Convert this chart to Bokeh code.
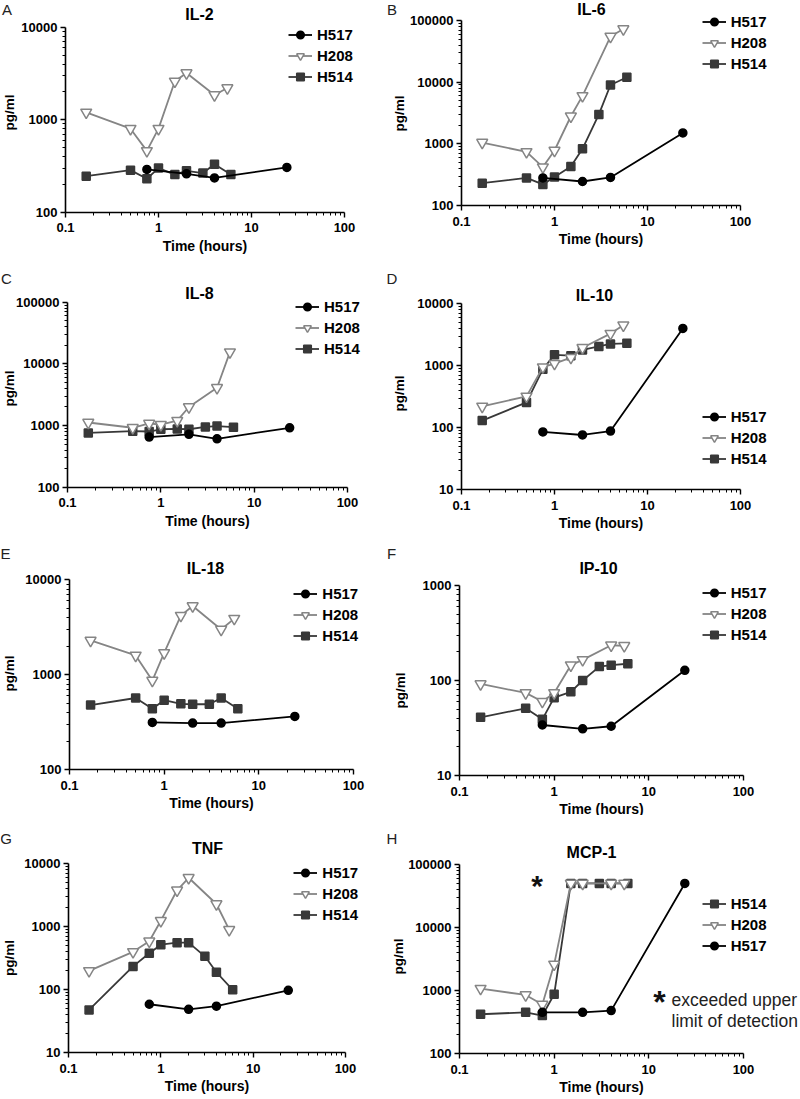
import math
from bokeh.plotting import figure
from bokeh.layouts import column, row
from bokeh.models import FixedTicker, CustomJSTickFormatter, Label, Legend, LegendItem
from bokeh.embed import file_html
from bokeh.resources import INLINE

FONT = "Liberation Sans"

# ---------------- data ----------------
t_h517 = [0.75, 2, 4, 24]
t_h208 = [0.167, 0.5, 0.75, 1, 1.5, 2, 4, 5.5]
t_h514 = [0.167, 0.5, 0.75, 1, 1.5, 2, 3, 4, 6]

il2_h517 = [290, 260, 235, 305]
il2_h208 = [1200, 800, 460, 800, 2600, 3200, 1850, 2200]
il2_h514 = [245, 285, 230, 300, 255, 280, 265, 330, 255]

il6_h517 = [280, 245, 285, 1500]
il6_h208 = [1050, 740, 420, 780, 2800, 6000, 55000, 73000]
il6_h514 = [230, 280, 220, 290, 430, 830, 3000, 9000, 12000]

il8_h517 = [650, 720, 610, 920]
il8_h208 = [1120, 920, 1080, 1030, 1200, 2000, 4100, 15500]
il8_h514 = [760, 810, 800, 870, 880, 870, 950, 980, 940]

il10_h517 = [85, 76, 88, 4000]
il10_h208 = [220, 320, 950, 1080, 1350, 1950, 3300, 4500]
il10_h514 = [130, 255, 880, 1500, 1450, 1800, 2050, 2250, 2300]

il18_h517 = [315, 310, 310, 365]
il18_h208 = [2300, 1600, 870, 1700, 4200, 5300, 3000, 3900]
il18_h514 = [480, 570, 440, 540, 495, 490, 490, 570, 440]

ip10_h517 = [34, 31, 33, 128]
ip10_h208 = [92, 74, 60, 74, 145, 165, 235, 232]
ip10_h514 = [41, 51, 39, 66, 76, 100, 140, 145, 150]

tnf_h517 = [59, 49, 55, 98]
tnf_h208 = [200, 400, 590, 1250, 3800, 6000, 2300, 900]
tnf_h514 = [48, 235, 380, 520, 560, 560, 340, 190, 100]

mcp1_h517 = [450, 450, 480, 50000]
mcp1_h208 = [1070, 850, 600, 2600, 50000, 50000, 50000, 50000]
mcp1_h514 = [420, 450, 400, 870, 50000, 50000, 50000, 50000, 50000]

x_lo, x_hi = 0.1, 100
x_ticks = [0.1, 1, 10, 100]
series_times = {"H517": t_h517, "H208": t_h208, "H514": t_h514}

STYLE = {
    "H517": dict(color="#000000", fill="#000000", marker="circle", size=8),
    "H208": dict(color="#858585", fill="#ffffff", marker="inverted_triangle", size=11),
    "H514": dict(color="#383838", fill="#383838", marker="square", size=8),
}

# ---------------- layout (page pixels) ----------------
ROW_TOPS = [0, 264, 540, 815]
ROW_H = [264, 276, 275, 284]
COL_LEFTS = [0, 408]
COL_W = [408, 392]

# axis box: (x of 0.1, x of 100, y of top value, y of bottom value)
panels = [
    dict(title="IL-2", ylo=100, yhi=1e4, data={"H517": il2_h517, "H208": il2_h208, "H514": il2_h514},
         order=["H517", "H208", "H514"], box=(65, 344, 26.7, 211.7), title_pos=(199, 13.5),
         legend_pos=(288, 34.3),
         texts=[("A", 6.5, 8.5), ("B", 391.5, 8.5)], ylabs=[(8.5, 112), (399, 113)]),
    dict(title="IL-6", ylo=100, yhi=1e5, data={"H517": il6_h517, "H208": il6_h208, "H514": il6_h514},
         order=["H517", "H208", "H514"], box=(461, 740, 20, 205), title_pos=(591, 9),
         legend_pos=(701.7, 21.7), texts=[], ylabs=[]),
    dict(title="IL-8", ylo=100, yhi=1e5, data={"H517": il8_h517, "H208": il8_h208, "H514": il8_h514},
         order=["H517", "H208", "H514"], box=(67, 347, 301.7, 486.7), title_pos=(199, 293.3),
         legend_pos=(295, 306.7),
         texts=[("C", 6, 277.5), ("D", 391.5, 277.5)], ylabs=[(8.5, 388), (399, 393)]),
    dict(title="IL-10", ylo=10, yhi=1e4, data={"H517": il10_h517, "H208": il10_h208, "H514": il10_h514},
         order=["H517", "H208", "H514"], box=(461, 740, 303.3, 489), title_pos=(594, 295),
         legend_pos=(701.7, 416.7), texts=[], ylabs=[]),
    dict(title="IL-18", ylo=100, yhi=1e4, data={"H517": il18_h517, "H208": il18_h208, "H514": il18_h514},
         order=["H517", "H208", "H514"], box=(69, 353, 579.3, 769.3), title_pos=(205, 568.3),
         legend_pos=(293.3, 593.3),
         texts=[("E", 5, 553.3), ("F", 391, 553.3)], ylabs=[(8.5, 673), (400, 690)]),
    dict(title="IP-10", ylo=10, yhi=1e3, data={"H517": ip10_h517, "H208": ip10_h208, "H514": ip10_h514},
         order=["H517", "H208", "H514"], box=(459, 743, 585, 775), title_pos=(598, 568.3),
         legend_pos=(701.7, 592.3), texts=[], ylabs=[]),
    dict(title="TNF", ylo=10, yhi=1e4, data={"H517": tnf_h517, "H208": tnf_h208, "H514": tnf_h514},
         order=["H517", "H208", "H514"], box=(68, 345, 863.3, 1052.3), title_pos=(207, 848.3),
         legend_pos=(293.3, 872.7),
         texts=[("G", 5.5, 838.3), ("H", 391.5, 838.3)], ylabs=[(8.5, 957.5), (398, 956)]),
    dict(title="MCP-1", ylo=100, yhi=1e5, data={"H517": mcp1_h517, "H208": mcp1_h208, "H514": mcp1_h514},
         order=["H514", "H208", "H517"], box=(459, 743, 864, 1053), title_pos=(591, 851.7),
         legend_pos=(701.7, 903.3), texts=[], ylabs=[], mcp=True),
]

LEG_H = 3 * 19 + 2 * 2


def build(cfg, r, c):
    w, h = COL_W[c], ROW_H[r]
    cl, ct = COL_LEFTS[c], ROW_TOPS[r]
    cr, cb = cl + w, ct + h
    xa, xb, yt, yb = cfg["box"]
    ylo, yhi = cfg["ylo"], cfg["yhi"]

    # ranges chosen so that the axis box lands on the target pixels; frame = whole canvas
    xdec = (xb - xa) / (math.log10(x_hi) - math.log10(x_lo))
    xs0 = 10 ** (math.log10(x_lo) - (xa - cl) / xdec)
    xs1 = 10 ** (math.log10(x_hi) + (cr - xb) / xdec)
    ydec = (yb - yt) / (math.log10(yhi) - math.log10(ylo))
    ys0 = 10 ** (math.log10(ylo) - (cb - yb) / ydec)
    ys1 = 10 ** (math.log10(yhi) + (yt - ct) / ydec)

    def sx(px):
        return px - cl

    def sy(py):
        return cb - py

    p = figure(width=w, height=h, x_axis_type="log", y_axis_type="log",
               x_range=(xs0, xs1), y_range=(ys0, ys1),
               output_backend="svg", toolbar_location=None,
               min_border_left=0, min_border_right=0, min_border_top=0, min_border_bottom=0)
    p.title.visible = False
    p.outline_line_color = None
    p.xgrid.visible = False
    p.ygrid.visible = False
    p.background_fill_color = "white"
    p.border_fill_color = "white"

    klo = round(math.log10(ylo))
    khi = round(math.log10(yhi))
    y_ticks = [10 ** k for k in range(klo, khi + 1)]
    y_minor = [m * 10 ** k for k in range(klo, khi) for m in range(2, 10)]
    x_minor = [m * 10 ** k for k in range(-1, 2) for m in range(2, 10)]

    p.xaxis.ticker = FixedTicker(ticks=x_ticks, minor_ticks=x_minor)
    p.yaxis.ticker = FixedTicker(ticks=y_ticks, minor_ticks=y_minor)
    p.xaxis.formatter = CustomJSTickFormatter(code="return String(tick);")
    p.yaxis.formatter = CustomJSTickFormatter(code="return String(tick);")
    p.xaxis.fixed_location = ylo
    p.yaxis.fixed_location = x_lo
    p.xaxis.bounds = (x_lo, x_hi)
    p.yaxis.bounds = (ylo, yhi)
    for ax in (p.xaxis[0], p.yaxis[0]):
        ax.axis_line_width = 1.6
        ax.axis_line_color = "black"
        ax.major_tick_line_width = 1.4
        ax.minor_tick_line_width = 1
        ax.major_tick_out = 5
        ax.major_tick_in = 0
        ax.minor_tick_out = 3
        ax.minor_tick_in = 0
        ax.major_label_text_font = FONT
        ax.major_label_text_font_style = "bold"
        ax.major_label_text_font_size = "13px"
        ax.major_label_text_color = "black"
    p.xaxis.major_label_standoff = 6
    p.yaxis.major_label_standoff = 3
    p.xaxis.axis_label = "Time (hours)"
    p.xaxis.axis_label_text_font = FONT
    p.xaxis.axis_label_text_font_style = "bold"
    p.xaxis.axis_label_text_font_size = "14px"
    p.xaxis.axis_label_text_color = "black"
    p.xaxis.axis_label_standoff = 2

    renderers = {}
    for name in ["H514", "H208", "H517"]:
        st = STYLE[name]
        xs = series_times[name]
        ys = cfg["data"][name]
        ln = p.line(xs, ys, line_color=st["color"], line_width=1.8)
        sc = p.scatter(xs, ys, marker=st["marker"], size=st["size"], fill_color=st["fill"],
                       line_color=st["color"], line_width=1.5)
        renderers[name] = [ln, sc]

    items = [LegendItem(label=n, renderers=renderers[n]) for n in cfg["order"]]
    lx, lyc = cfg["legend_pos"]
    leg_bottom = lyc - 9.5 + LEG_H
    leg = Legend(items=items, location=(sx(lx), sy(leg_bottom)),
                 padding=0, margin=0, spacing=2, glyph_width=24, glyph_height=19,
                 label_height=19, label_standoff=5, border_line_color=None,
                 background_fill_alpha=0, label_text_font=FONT, label_text_font_style="bold",
                 label_text_font_size="15px", label_text_color="black")
    p.add_layout(leg)

    tx, ty = cfg["title_pos"]
    p.add_layout(Label(x=sx(tx), y=sy(ty), x_units="screen", y_units="screen", text=cfg["title"],
                       text_align="center", text_baseline="middle", text_font=FONT,
                       text_font_style="bold", text_font_size="16px", text_color="black"))

    for (px, py) in cfg["ylabs"]:
        p.add_layout(Label(x=sx(px), y=sy(py), x_units="screen", y_units="screen",
                           text="pg/ml", angle=math.pi / 2, text_align="center", text_baseline="middle",
                           text_font=FONT, text_font_style="bold", text_font_size="13.5px",
                           text_color="black"))

    for (txt, px, py) in cfg["texts"]:
        p.add_layout(Label(x=sx(px), y=sy(py), x_units="screen", y_units="screen", text=txt,
                           text_align="center", text_baseline="middle", text_font=FONT,
                           text_font_size="15px", text_color="#222222"))

    if cfg.get("mcp"):
        p.add_layout(Label(x=sx(536.7), y=sy(884.7), x_units="screen", y_units="screen", text="*",
                           text_align="center", text_baseline="middle", text_font=FONT,
                           text_font_style="bold", text_font_size="30px", text_color="#111111"))
        p.add_layout(Label(x=sx(659), y=sy(1001.5), x_units="screen", y_units="screen", text="*",
                           text_align="center", text_baseline="middle", text_font=FONT,
                           text_font_style="bold", text_font_size="32px", text_color="#111111"))
        p.add_layout(Label(x=sx(671), y=sy(999.3), x_units="screen", y_units="screen",
                           text="exceeded upper", text_align="left", text_baseline="middle",
                           text_font=FONT, text_font_size="17.5px", text_color="#222222"))
        p.add_layout(Label(x=sx(671), y=sy(1020), x_units="screen", y_units="screen",
                           text="limit of detection", text_align="left", text_baseline="middle",
                           text_font=FONT, text_font_size="17.5px", text_color="#222222"))
    return p


figs = [build(cfg, i // 2, i % 2) for i, cfg in enumerate(panels)]
layout = column(*[row(figs[2 * r], figs[2 * r + 1]) for r in range(4)])

open("out.html", "w").write(file_html(layout, INLINE))
